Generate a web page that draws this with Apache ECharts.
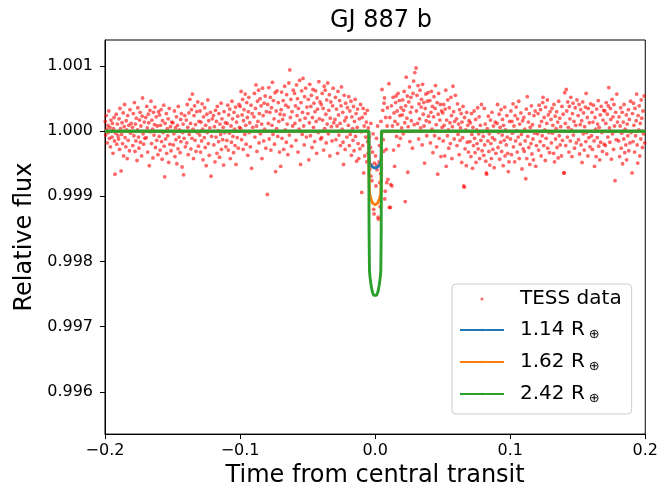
<!DOCTYPE html>
<html><head><meta charset="utf-8">
<script src="https://cdn.jsdelivr.net/npm/echarts@6/dist/echarts.min.js"></script>
<style>html,body{margin:0;padding:0;background:#fff}#c{width:661px;height:493px}</style>
</head><body><div id="c"></div>
<script>
// TESS data, time from central transit -0.20 .. -0.10
const tessA = [
[-0.1998,1.00015],[-0.1995,0.99994],[-0.1991,1.00024],[-0.1987,1.00003],[-0.1984,0.99982],[-0.1979,1.00009],[-0.1976,0.99998],[-0.1972,1.00031],[-0.1967,0.99989],[-0.1964,1.00006],[-0.1960,0.99976],[-0.1956,1.00017],[-0.1953,1.00000],[-0.1948,0.99991],[-0.1945,1.00012],[-0.1941,0.99966],[-0.1937,1.00004],[-0.1933,1.00021],[-0.1930,0.99985],[-0.1926,0.99934],[-0.1921,0.99997],[-0.1917,1.00026],[-0.1913,0.99980],[-0.1908,1.00011],[-0.1904,0.99993],
[-0.1899,0.99988],[-0.1896,1.00019],[-0.1892,0.99972],[-0.1889,1.00035],[-0.1885,1.00004],[-0.1881,0.99939],[-0.1877,0.99995],[-0.1874,1.00013],[-0.1870,0.99981],[-0.1865,1.00028],[-0.1862,0.99962],[-0.1858,1.00007],[-0.1855,1.00041],[-0.1851,0.99990],[-0.1846,0.99976],[-0.1843,1.00016],[-0.1839,1.00002],[-0.1835,0.99958],[-0.1832,1.00024],[-0.1828,0.99986],[-0.1824,1.00009],[-0.1819,0.99970],[-0.1815,1.00033],[-0.1811,0.99997],[-0.1806,1.00012],
[-0.1797,1.00006],[-0.1794,0.99978],[-0.1790,1.00027],[-0.1786,0.99993],[-0.1782,1.00044],[-0.1778,0.99969],[-0.1775,1.00011],[-0.1771,0.99985],[-0.1768,1.00020],[-0.1763,0.99955],[-0.1759,1.00002],[-0.1757,1.00036],[-0.1752,0.99991],[-0.1749,0.99974],[-0.1744,1.00017],[-0.1740,1.00029],[-0.1738,0.99983],[-0.1734,1.00008],[-0.1729,0.99962],[-0.1725,1.00023],[-0.1722,1.00051],[-0.1718,0.99996],[-0.1714,0.99980],[-0.1709,1.00014],[-0.1705,0.99989],
[-0.1698,1.00021],[-0.1695,0.99990],[-0.1691,1.00038],[-0.1687,1.00005],[-0.1684,0.99968],[-0.1679,1.00026],[-0.1676,1.00013],[-0.1672,0.99947],[-0.1667,1.00032],[-0.1664,0.99999],[-0.1660,1.00046],[-0.1656,0.99981],[-0.1653,1.00017],[-0.1648,1.00003],[-0.1645,0.99959],[-0.1641,1.00029],[-0.1637,0.99994],[-0.1633,1.00010],[-0.1630,1.00037],[-0.1626,0.99975],[-0.1621,1.00022],[-0.1617,0.99986],[-0.1613,1.00008],[-0.1608,0.99964],[-0.1604,1.00030],
[-0.1599,0.99992],[-0.1596,1.00025],[-0.1592,0.99971],[-0.1589,1.00009],[-0.1585,1.00033],[-0.1581,0.99984],[-0.1577,0.99957],[-0.1574,1.00016],[-0.1570,0.99998],[-0.1565,1.00040],[-0.1562,0.99977],[-0.1558,0.99930],[-0.1555,1.00012],[-0.1551,0.99988],[-0.1546,1.00027],[-0.1543,0.99966],[-0.1539,1.00004],[-0.1535,0.99993],[-0.1532,1.00019],[-0.1528,0.99952],[-0.1524,1.00035],[-0.1519,0.99980],[-0.1515,1.00007],[-0.1511,0.99970],[-0.1506,1.00014],
[-0.1497,1.00013],[-0.1494,0.99979],[-0.1490,0.99996],[-0.1486,1.00031],[-0.1482,0.99961],[-0.1478,1.00005],[-0.1475,0.99987],[-0.1471,1.00022],[-0.1468,0.99950],[-0.1463,1.00009],[-0.1459,0.99973],[-0.1457,1.00038],[-0.1452,0.99991],[-0.1449,1.00002],[-0.1444,0.99967],[-0.1440,1.00018],[-0.1438,0.99984],[-0.1434,1.00027],[-0.1429,0.99945],[-0.1425,0.99998],[-0.1422,1.00011],[-0.1418,0.99933],[-0.1414,0.99989],[-0.1409,1.00024],[-0.1405,0.99976],
[-0.1398,1.00017],[-0.1395,0.99982],[-0.1391,1.00041],[-0.1387,1.00006],[-0.1384,0.99964],[-0.1379,1.00028],[-0.1376,0.99995],[-0.1372,1.00049],[-0.1367,1.00012],[-0.1364,0.99973],[-0.1360,1.00033],[-0.1356,0.99989],[-0.1353,1.00057],[-0.1348,1.00003],[-0.1345,0.99958],[-0.1341,1.00024],[-0.1337,1.00039],[-0.1333,0.99986],[-0.1330,1.00010],[-0.1326,0.99969],[-0.1321,1.00030],[-0.1317,0.99998],[-0.1313,1.00045],[-0.1308,0.99977],[-0.1304,1.00015],
[-0.1299,0.99994],[-0.1296,1.00031],[-0.1292,0.99968],[-0.1289,1.00014],[-0.1285,0.99985],[-0.1281,1.00042],[-0.1277,1.00003],[-0.1274,0.99956],[-0.1270,1.00022],[-0.1265,0.99990],[-0.1262,1.00036],[-0.1258,0.99975],[-0.1255,1.00009],[-0.1251,0.99947],[-0.1246,1.00026],[-0.1243,0.99998],[-0.1239,1.00048],[-0.1235,0.99981],[-0.1232,1.00016],[-0.1228,0.99963],[-0.1224,1.00005],[-0.1219,1.00029],[-0.1215,0.99931],[-0.1211,0.99992],[-0.1206,1.00019],
[-0.1197,1.00024],[-0.1194,0.99979],[-0.1190,1.00007],[-0.1186,0.99953],[-0.1182,1.00032],[-0.1178,0.99991],[-0.1175,1.00015],[-0.1171,0.99966],[-0.1168,1.00038],[-0.1163,1.00001],[-0.1159,0.99984],[-0.1157,1.00027],[-0.1152,0.99960],[-0.1149,1.00011],[-0.1144,0.99995],[-0.1140,1.00043],[-0.1138,0.99972],[-0.1134,1.00019],[-0.1129,0.99987],[-0.1125,1.00006],[-0.1122,0.99948],[-0.1118,1.00030],[-0.1114,0.99998],[-0.1109,1.00013],[-0.1105,0.99976],
[-0.1098,0.99986],[-0.1095,1.00012],[-0.1091,1.00040],[-0.1087,0.99971],[-0.1084,1.00025],[-0.1079,0.99997],[-0.1076,1.00034],[-0.1072,0.99958],[-0.1067,1.00008],[-0.1064,0.99983],[-0.1060,1.00046],[-0.1056,1.00019],[-0.1053,0.99992],[-0.1048,0.99967],[-0.1045,1.00029],[-0.1041,1.00003],[-0.1037,0.99978],[-0.1033,1.00037],[-0.1030,0.99949],[-0.1026,1.00014],[-0.1021,0.99990],[-0.1017,1.00023],[-0.1013,0.99974],[-0.1008,1.00041],[-0.1004,1.00006]
];
// TESS data -0.10 .. 0.00
const tessB = [
[-0.0999,1.00038],[-0.0996,1.00004],[-0.0992,1.00061],[-0.0989,0.99987],[-0.0985,1.00025],[-0.0981,1.00049],[-0.0977,0.99972],[-0.0974,1.00016],[-0.0970,1.00033],[-0.0965,0.99995],[-0.0962,1.00057],[-0.0958,1.00009],[-0.0955,0.99980],[-0.0951,1.00044],[-0.0946,1.00021],[-0.0943,0.99963],[-0.0939,1.00030],[-0.0935,1.00052],[-0.0932,0.99998],[-0.0928,1.00013],[-0.0924,0.99976],[-0.0919,1.00040],[-0.0915,0.99943],[-0.0911,1.00027],[-0.0906,1.00006],
[-0.0897,1.00022],[-0.0894,1.00058],[-0.0890,0.99991],[-0.0886,1.00035],[-0.0882,1.00071],[-0.0878,1.00008],[-0.0875,0.99969],[-0.0871,1.00046],[-0.0868,1.00015],[-0.0863,1.00063],[-0.0859,0.99982],[-0.0857,1.00027],[-0.0852,1.00050],[-0.0849,0.99996],[-0.0844,1.00039],[-0.0840,1.00011],[-0.0838,0.99958],[-0.0834,1.00066],[-0.0829,1.00024],[-0.0825,0.99985],[-0.0822,1.00043],[-0.0818,1.00003],[-0.0814,1.00054],[-0.0809,0.99974],[-0.0805,1.00030],
[-0.0798,0.99903],[-0.0795,1.00041],[-0.0791,1.00012],[-0.0787,1.00067],[-0.0784,0.99988],[-0.0779,1.00029],[-0.0776,1.00052],[-0.0772,0.99971],[-0.0767,1.00036],[-0.0764,1.00009],[-0.0760,1.00075],[-0.0756,0.99995],[-0.0753,1.00047],[-0.0748,1.00019],[-0.0745,0.99980],[-0.0741,1.00059],[-0.0737,0.99938],[-0.0733,1.00031],[-0.0730,1.00004],[-0.0726,1.00062],[-0.0721,0.99992],[-0.0717,1.00044],[-0.0713,1.00015],[-0.0708,0.99968],[-0.0704,1.00026],
[-0.0699,0.99946],[-0.0696,1.00033],[-0.0692,1.00060],[-0.0689,0.99989],[-0.0685,1.00018],[-0.0681,1.00047],[-0.0677,0.99972],[-0.0674,1.00025],[-0.0670,1.00069],[-0.0665,1.00002],[-0.0662,1.00040],[-0.0658,0.99983],[-0.0655,1.00056],[-0.0651,1.00011],[-0.0646,0.99964],[-0.0643,1.00037],[-0.0639,1.00074],[-0.0635,0.99994],[-0.0632,1.00094],[-0.0628,1.00021],[-0.0624,1.00049],[-0.0619,0.99977],[-0.0615,1.00030],[-0.0611,1.00008],[-0.0606,1.00063],
[-0.0597,1.00058],[-0.0594,1.00012],[-0.0590,1.00039],[-0.0586,0.99986],[-0.0582,1.00071],[-0.0578,1.00024],[-0.0575,1.00050],[-0.0571,0.99968],[-0.0568,1.00035],[-0.0563,1.00003],[-0.0559,1.00078],[-0.0557,1.00017],[-0.0552,0.99949],[-0.0549,1.00044],[-0.0544,1.00062],[-0.0540,0.99995],[-0.0538,1.00029],[-0.0534,1.00081],[-0.0529,1.00008],[-0.0525,0.99979],[-0.0522,1.00053],[-0.0518,1.00020],[-0.0514,1.00066],[-0.0509,0.99991],[-0.0505,1.00037],
[-0.0498,1.00027],[-0.0495,1.00049],[-0.0491,0.99956],[-0.0487,1.00013],[-0.0484,1.00072],[-0.0479,0.99993],[-0.0476,1.00038],[-0.0472,1.00055],[-0.0467,0.99975],[-0.0464,1.00021],[-0.0460,1.00064],[-0.0456,1.00006],[-0.0453,1.00043],[-0.0448,0.99984],[-0.0445,1.00030],[-0.0441,1.00062],[-0.0437,1.00015],[-0.0433,0.99966],[-0.0430,1.00051],[-0.0426,1.00034],[-0.0421,0.99998],[-0.0417,1.00076],[-0.0413,1.00019],[-0.0408,1.00045],[-0.0404,0.99988],
[-0.0399,1.00041],[-0.0396,0.99990],[-0.0392,1.00058],[-0.0389,1.00017],[-0.0385,1.00035],[-0.0381,0.99971],[-0.0377,1.00069],[-0.0374,1.00004],[-0.0370,1.00063],[-0.0365,1.00026],[-0.0362,0.99982],[-0.0358,1.00048],[-0.0355,1.00011],[-0.0351,1.00074],[-0.0346,0.99996],[-0.0343,1.00032],[-0.0339,1.00056],[-0.0335,0.99962],[-0.0332,1.00020],[-0.0328,1.00045],[-0.0324,1.00007],[-0.0319,0.99985],[-0.0315,1.00039],[-0.0311,1.00066],[-0.0306,1.00013],
[-0.0297,1.00018],[-0.0294,1.00052],[-0.0290,0.99987],[-0.0286,1.00034],[-0.0282,1.00008],[-0.0278,0.99966],[-0.0275,1.00061],[-0.0271,1.00025],[-0.0268,0.99994],[-0.0263,1.00047],[-0.0259,1.00012],[-0.0257,0.99978],[-0.0252,1.00039],[-0.0249,1.00068],[-0.0244,1.00003],[-0.0240,1.00029],[-0.0238,0.99983],[-0.0234,0.99949],[-0.0229,1.00055],[-0.0225,1.00016],[-0.0222,0.99972],[-0.0218,1.00043],[-0.0214,1.00021],[-0.0209,0.99991],[-0.0205,1.00036],
[-0.0198,1.00009],[-0.0195,1.00053],[-0.0191,0.99978],[-0.0187,1.00031],[-0.0184,0.99995],[-0.0179,1.00046],[-0.0176,0.99963],[-0.0172,1.00022],[-0.0167,1.00004],[-0.0164,0.99986],[-0.0160,1.00038],[-0.0156,0.99970],[-0.0153,1.00015],[-0.0148,1.00049],[-0.0145,0.99992],[-0.0141,1.00027],[-0.0137,0.99954],[-0.0133,1.00006],[-0.0130,1.00034],[-0.0126,0.99981],[-0.0121,0.99958],[-0.0117,1.00019],[-0.0113,0.99973],[-0.0108,1.00041],[-0.0104,0.99999],
[-0.0099,0.99906],[-0.0096,1.00021],[-0.0092,0.99978],[-0.0089,1.00035],[-0.0085,0.99936],[-0.0081,1.00008],[-0.0077,0.99962],[-0.0074,1.00027],[-0.0070,0.99991],[-0.0065,1.00014],[-0.0062,0.99953],[-0.0058,1.00032],[-0.0055,0.99984],[-0.0052,0.99966],[-0.0051,1.00005],[-0.0046,0.99957],[-0.0043,0.99991],[-0.0039,0.99942],[-0.0035,0.99975],[-0.0032,1.00012],[-0.0031,0.99931],[-0.0028,0.99948],[-0.0024,0.99924],[-0.0019,0.99968],[-0.0015,0.99996],[-0.0011,0.99880],[-0.0008,0.99873],[-0.0006,0.99951]
];
// TESS data 0.00 .. 0.10
const tessC = [
[0.0003,0.99962],[0.0006,0.99916],[0.0010,0.99989],[0.0012,0.99948],[0.0014,0.99941],[0.0018,1.00008],[0.0022,0.99868],[0.0025,0.99865],[0.0029,0.99953],[0.0032,0.99978],[0.0034,0.99921],[0.0037,0.99884],[0.0041,0.99935],[0.0043,1.00015],[0.0048,0.99996],[0.0051,1.00064],[0.0056,1.00032],[0.0060,0.99987],[0.0062,0.99969],[0.0066,1.00043],[0.0069,1.00051],[0.0071,0.99896],[0.0075,0.99908],[0.0078,1.00021],[0.0082,0.99972],[0.0086,0.99921],[0.0089,1.00008],[0.0091,1.00036],[0.0095,0.99926],
[0.0102,1.00073],[0.0105,0.99883],[0.0109,1.00021],[0.0113,0.99883],[0.0116,0.99918],[0.0121,1.00039],[0.0124,0.99916],[0.0128,1.00008],[0.0133,1.00052],[0.0136,0.99971],[0.0140,1.00028],[0.0144,0.99946],[0.0147,1.00015],[0.0152,1.00044],[0.0155,1.00054],[0.0159,0.99992],[0.0163,1.00031],[0.0167,1.00011],[0.0170,1.00058],[0.0174,0.99978],[0.0179,1.00047],[0.0183,1.00024],[0.0187,0.99989],[0.0192,1.00036],[0.0196,1.00005],
[0.0201,1.00025],[0.0204,1.00048],[0.0208,0.99996],[0.0211,1.00032],[0.0215,1.00061],[0.0219,1.00013],[0.0223,0.99892],[0.0226,1.00039],[0.0230,1.00083],[0.0235,1.00020],[0.0238,1.00054],[0.0242,0.99937],[0.0245,1.00007],[0.0249,1.00045],[0.0254,1.00068],[0.0257,0.99984],[0.0261,1.00029],[0.0265,1.00052],[0.0268,1.00016],[0.0272,1.00037],[0.0276,0.99974],[0.0281,1.00058],[0.0285,1.00077],[0.0289,1.00010],[0.0294,1.00090],
[0.0303,1.00097],[0.0306,1.00031],[0.0310,1.00055],[0.0314,1.00012],[0.0318,1.00070],[0.0322,0.99988],[0.0325,1.00042],[0.0329,1.00019],[0.0332,1.00063],[0.0337,1.00005],[0.0341,1.00037],[0.0343,1.00049],[0.0348,0.99979],[0.0351,1.00072],[0.0356,1.00026],[0.0360,1.00044],[0.0362,1.00008],[0.0366,0.99951],[0.0371,1.00035],[0.0375,1.00057],[0.0378,1.00016],[0.0382,0.99993],[0.0386,1.00046],[0.0391,1.00059],[0.0395,1.00023],
[0.0402,1.00014],[0.0405,1.00047],[0.0409,0.99982],[0.0413,1.00029],[0.0416,1.00061],[0.0421,1.00003],[0.0424,1.00038],[0.0428,0.99967],[0.0433,1.00022],[0.0436,1.00053],[0.0440,0.99993],[0.0444,1.00035],[0.0447,1.00070],[0.0452,1.00010],[0.0455,0.99976],[0.0459,1.00044],[0.0463,0.99934],[0.0467,1.00026],[0.0470,1.00058],[0.0474,0.99989],[0.0479,1.00017],[0.0483,1.00041],[0.0487,0.99961],[0.0492,1.00031],[0.0496,1.00006],
[0.0501,1.00028],[0.0504,0.99985],[0.0508,1.00041],[0.0511,1.00009],[0.0515,0.99962],[0.0519,1.00034],[0.0523,1.00063],[0.0526,0.99946],[0.0530,1.00017],[0.0535,0.99993],[0.0538,1.00048],[0.0542,1.00002],[0.0545,0.99974],[0.0549,1.00036],[0.0554,1.00013],[0.0557,0.99981],[0.0561,1.00052],[0.0565,1.00024],[0.0568,0.99958],[0.0572,1.00007],[0.0576,1.00069],[0.0581,1.00030],[0.0585,0.99988],[0.0589,1.00015],[0.0594,1.00055],
[0.0603,1.00019],[0.0606,0.99978],[0.0610,1.00042],[0.0614,0.99995],[0.0618,1.00011],[0.0622,0.99964],[0.0625,1.00033],[0.0629,0.99986],[0.0632,1.00005],[0.0637,1.00027],[0.0641,0.99952],[0.0643,1.00014],[0.0648,0.99990],[0.0651,1.00038],[0.0656,0.99916],[0.0660,0.99914],[0.0662,1.00021],[0.0666,0.99973],[0.0671,1.00002],[0.0675,0.99947],[0.0678,1.00029],[0.0682,0.99983],[0.0686,1.00009],[0.0691,0.99968],[0.0695,1.00016],
[0.0702,0.99984],[0.0705,1.00013],[0.0709,0.99961],[0.0713,1.00027],[0.0716,0.99995],[0.0721,0.99943],[0.0724,1.00006],[0.0728,0.99978],[0.0733,1.00031],[0.0736,0.99989],[0.0740,0.99967],[0.0744,1.00018],[0.0747,0.99952],[0.0752,1.00002],[0.0755,0.99981],[0.0759,1.00036],[0.0763,0.99973],[0.0767,0.99996],[0.0770,1.00022],[0.0774,0.99958],[0.0779,1.00009],[0.0783,0.99986],[0.0787,1.00041],[0.0792,0.99970],[0.0796,0.99999],
[0.0801,0.99992],[0.0804,0.99963],[0.0808,1.00035],[0.0811,0.99979],[0.0815,1.00011],[0.0819,0.99954],[0.0823,0.99936],[0.0826,0.99934],[0.0830,1.00004],[0.0835,0.99985],[0.0838,1.00023],[0.0842,0.99969],[0.0845,0.99996],[0.0849,0.99948],[0.0854,1.00017],[0.0857,0.99981],[0.0861,0.99958],[0.0865,1.00029],[0.0868,0.99990],[0.0872,0.99972],[0.0876,1.00008],[0.0881,0.99944],[0.0885,0.99987],[0.0889,1.00014],[0.0894,0.99966],
[0.0903,1.00012],[0.0906,1.00041],[0.0910,0.99975],[0.0914,0.99998],[0.0918,1.00026],[0.0922,0.99957],[0.0925,1.00006],[0.0929,0.99983],[0.0932,1.00033],[0.0937,0.99969],[0.0941,0.99994],[0.0943,1.00018],[0.0948,0.99947],[0.0951,1.00009],[0.0956,0.99986],[0.0960,1.00037],[0.0962,0.99962],[0.0966,1.00002],[0.0971,0.99979],[0.0975,1.00024],[0.0978,0.99991],[0.0982,0.99966],[0.0986,0.99938],[0.0991,0.99953],[0.0995,1.00015]
];
// TESS data 0.10 .. 0.20
const tessD = [
[0.1002,0.99988],[0.1005,1.00031],[0.1009,0.99964],[0.1013,1.00015],[0.1016,0.99997],[0.1021,1.00042],[0.1024,0.99976],[0.1028,1.00008],[0.1033,0.99953],[0.1036,1.00024],[0.1040,0.99985],[0.1044,1.00037],[0.1047,1.00001],[0.1052,0.99968],[0.1055,1.00019],[0.1059,0.99991],[0.1063,1.00046],[0.1067,0.99958],[0.1070,1.00011],[0.1074,0.99980],[0.1079,1.00028],[0.1083,0.99995],[0.1087,0.99942],[0.1092,1.00016],[0.1096,0.99973],
[0.1101,1.00021],[0.1104,0.99969],[0.1108,1.00003],[0.1111,0.99985],[0.1115,0.99927],[0.1119,1.00034],[0.1123,0.99958],[0.1126,1.00053],[0.1130,0.99992],[0.1135,1.00014],[0.1138,0.99975],[0.1142,1.00027],[0.1145,0.99949],[0.1149,1.00006],[0.1154,0.99981],[0.1157,1.00039],[0.1161,0.99965],[0.1165,1.00010],[0.1168,0.99988],[0.1172,0.99956],[0.1176,1.00024],[0.1181,0.99997],[0.1185,1.00031],[0.1189,0.99946],[0.1194,0.99978],
[0.1203,0.99996],[0.1206,1.00027],[0.1210,0.99971],[0.1214,1.00040],[0.1218,1.00008],[0.1222,0.99984],[0.1225,1.00033],[0.1229,0.99962],[0.1232,1.00015],[0.1237,0.99993],[0.1241,1.00044],[0.1243,1.00052],[0.1248,0.99978],[0.1251,1.00021],[0.1256,1.00002],[0.1260,0.99955],[0.1262,1.00037],[0.1266,0.99989],[0.1271,1.00012],[0.1275,1.00048],[0.1278,0.99974],[0.1282,1.00025],[0.1286,0.99998],[0.1291,0.99967],[0.1295,1.00030],
[0.1302,1.00018],[0.1305,0.99982],[0.1309,1.00035],[0.1313,0.99997],[0.1316,1.00009],[0.1321,0.99966],[0.1324,1.00041],[0.1328,0.99953],[0.1333,1.00023],[0.1336,0.99988],[0.1340,1.00004],[0.1344,1.00030],[0.1347,0.99975],[0.1352,1.00014],[0.1355,0.99959],[0.1359,1.00046],[0.1363,0.99993],[0.1367,1.00020],[0.1370,0.99979],[0.1374,1.00007],[0.1379,0.99962],[0.1383,1.00038],[0.1387,0.99986],[0.1392,1.00026],[0.1396,0.99936],
[0.1401,0.99936],[0.1404,1.00059],[0.1408,1.00012],[0.1411,0.99978],[0.1415,1.00064],[0.1419,1.00031],[0.1423,0.99991],[0.1426,1.00045],[0.1430,1.00006],[0.1435,0.99968],[0.1438,1.00038],[0.1442,1.00019],[0.1445,0.99985],[0.1449,1.00052],[0.1454,1.00002],[0.1457,0.99961],[0.1461,1.00027],[0.1465,1.00043],[0.1468,0.99994],[0.1472,1.00015],[0.1476,0.99974],[0.1481,1.00036],[0.1485,1.00009],[0.1489,0.99982],[0.1494,1.00048],
[0.1503,1.00024],[0.1506,0.99987],[0.1510,1.00041],[0.1514,0.99965],[0.1518,1.00010],[0.1522,1.00033],[0.1525,0.99979],[0.1529,1.00016],[0.1532,0.99952],[0.1537,1.00045],[0.1541,0.99996],[0.1543,1.00028],[0.1548,0.99971],[0.1551,1.00007],[0.1556,1.00037],[0.1560,0.99984],[0.1562,1.00058],[0.1566,0.99998],[0.1571,1.00021],[0.1575,0.99962],[0.1578,1.00035],[0.1582,0.99990],[0.1586,1.00013],[0.1591,0.99976],[0.1595,1.00042],
[0.1602,0.99993],[0.1605,1.00029],[0.1609,0.99972],[0.1613,1.00014],[0.1616,1.00040],[0.1621,0.99985],[0.1624,0.99946],[0.1628,1.00021],[0.1633,1.00003],[0.1636,0.99961],[0.1640,1.00034],[0.1644,0.99990],[0.1647,1.00011],[0.1652,1.00047],[0.1655,0.99977],[0.1659,1.00006],[0.1663,0.99956],[0.1667,1.00025],[0.1670,0.99983],[0.1674,1.00038],[0.1679,0.99998],[0.1683,0.99969],[0.1687,1.00017],[0.1692,1.00032],[0.1696,0.99980],
[0.1701,1.00031],[0.1704,0.99978],[0.1708,1.00012],[0.1711,1.00044],[0.1715,0.99965],[0.1719,1.00026],[0.1723,0.99991],[0.1726,1.00039],[0.1730,1.00067],[0.1735,1.00005],[0.1738,0.99983],[0.1742,1.00035],[0.1745,1.00018],[0.1749,0.99957],[0.1754,1.00049],[0.1757,0.99996],[0.1761,1.00022],[0.1765,0.99972],[0.1768,1.00041],[0.1772,1.00008],[0.1776,0.99924],[0.1781,1.00029],[0.1785,0.99987],[0.1789,1.00057],[0.1794,1.00014],
[0.1803,0.99985],[0.1806,1.00022],[0.1810,0.99961],[0.1814,1.00008],[0.1818,1.00036],[0.1822,0.99974],[0.1825,0.99997],[0.1829,1.00029],[0.1832,0.99950],[0.1837,1.00014],[0.1841,0.99988],[0.1843,1.00041],[0.1848,0.99967],[0.1851,1.00003],[0.1856,0.99979],[0.1860,1.00025],[0.1862,0.99956],[0.1866,1.00011],[0.1871,0.99993],[0.1875,1.00033],[0.1878,0.99970],[0.1882,1.00018],[0.1886,0.99982],[0.1891,1.00046],[0.1895,0.99998],
[0.1902,0.99936],[0.1905,1.00027],[0.1909,0.99984],[0.1913,1.00043],[0.1916,1.00009],[0.1921,0.99968],[0.1924,1.00035],[0.1928,0.99993],[0.1933,1.00016],[0.1936,1.00057],[0.1940,0.99979],[0.1944,0.99951],[0.1947,1.00024],[0.1952,1.00002],[0.1955,1.00039],[0.1959,0.99962],[0.1963,1.00012],[0.1967,0.99988],[0.1970,1.00048],[0.1974,1.00020],[0.1979,0.99975],[0.1983,1.00031],[0.1987,0.99996],[0.1992,1.00054],[0.1996,0.99982]
];
// transit models
const modelTime = [-0.2,-0.0047,-0.0045,-0.0042,-0.0038,-0.003,-0.002,-0.001,0,0.001,0.002,0.003,0.0038,0.0042,0.0045,0.0047,0.2];
const flux114 = [1,1,0.99966,0.99952,0.99950,0.99947,0.99945,0.99944,0.99943,0.99944,0.99945,0.99947,0.99950,0.99952,0.99966,1,1];
const flux162 = [1,1,0.99932,0.99905,0.99901,0.99895,0.99890,0.99888,0.99887,0.99888,0.99890,0.99895,0.99901,0.99905,0.99932,1,1];
const flux242 = [1,1,0.99847,0.99786,0.99776,0.99763,0.99753,0.99748,0.99745,0.99748,0.99753,0.99763,0.99776,0.99786,0.99847,1,1];
const seriesNames = ['TESS data','1.14 R⊕','1.62 R⊕','2.42 R⊕'];
const lineColors = ['#1f77b4','#ff7f0e','#2ca02c'];
const xTicks = [-0.2,-0.1,0,0.1,0.2];
const yTicks = [0.996,0.997,0.998,0.999,1.000,1.001];

const FONT = 'DejaVu Sans';
const tess = tessA.concat(tessB, tessC, tessD);
const pair = (ys) => modelTime.map((t,i)=>[t, ys[i]]);
const models = [flux114, flux162, flux242];

const chart = echarts.init(document.getElementById('c'), null, {renderer:'canvas'});
const axisCommon = {
  axisLine:{show:true, onZero:false, lineStyle:{color:'#000', width:1}},
  splitLine:{show:false},
  nameTextStyle:{fontFamily:FONT, fontSize:24, color:'#000'},
};
chart.setOption({
  animation:false,
  backgroundColor:'#fff',
  title:{text:'GJ 887 b', left:376, top:4, textAlign:'center',
    textStyle:{fontFamily:FONT, fontSize:24, fontWeight:'normal', color:'#000'}},
  grid:{left:105, right:13, top:40, bottom:53, show:true, borderColor:'#000', borderWidth:1},
  xAxis:Object.assign({}, axisCommon, {
    type:'value', min:-0.2, max:0.2,
    name:'Time from central transit', nameLocation:'middle', nameGap:23,
    axisTick:{show:true, length:5, customValues:xTicks, lineStyle:{color:'#000'}},
    axisLabel:{customValues:xTicks, fontFamily:FONT, fontSize:16, color:'#000', margin:9,
      formatter:(v)=> (v < -1e-9 ? '\u2212' : '') + Math.abs(v).toFixed(1)}
  }),
  yAxis:Object.assign({}, axisCommon, {
    type:'value', min:0.99535, max:1.0014,
    name:'Relative flux', nameLocation:'middle', nameGap:66,
    axisTick:{show:true, length:5, customValues:yTicks, lineStyle:{color:'#000'}},
    axisLabel:{customValues:yTicks, fontFamily:FONT, fontSize:16, color:'#000', margin:12,
      formatter:(v)=> v.toFixed(3)}
  }),
  legend:{
    orient:'vertical', left:452, top:284,
    backgroundColor:'rgba(255,255,255,0.85)', borderColor:'#cccccc', borderWidth:1, borderRadius:4,
    padding:[5,10,9,7], itemWidth:44, itemHeight:3, itemGap:10,
    textStyle:{fontFamily:FONT, fontSize:20, color:'#000',
      rich:{a:{fontFamily:FONT, fontSize:20, color:'#000', lineHeight:22, padding:[0,0,0,11]},
            s:{fontFamily:FONT, fontSize:13, color:'#000', lineHeight:22, padding:[9,0,0,4]}}},
    formatter:(n)=> n.endsWith('⊕') ? '{a|' + n.slice(0,-1) + '}{s|⊕}' : '{a|' + n + '}',
    data:[{name:seriesNames[0], icon:'circle'}, seriesNames[1], seriesNames[2], seriesNames[3]]
  },
  series:[
    {name:seriesNames[0], type:'scatter', data:tess, symbol:'circle', symbolSize:3.8, silent:true,
     itemStyle:{color:'#ff0000', opacity:0.6}, z:1},
  ].concat(models.map((m,i)=>({
    name:seriesNames[i+1], type:'line', data:pair(m), symbol:'none', showSymbol:false, silent:true,
    lineStyle:{color:lineColors[i], width:2.9}, itemStyle:{color:lineColors[i]}, z:2+i
  })))
});
</script>
</body></html>
